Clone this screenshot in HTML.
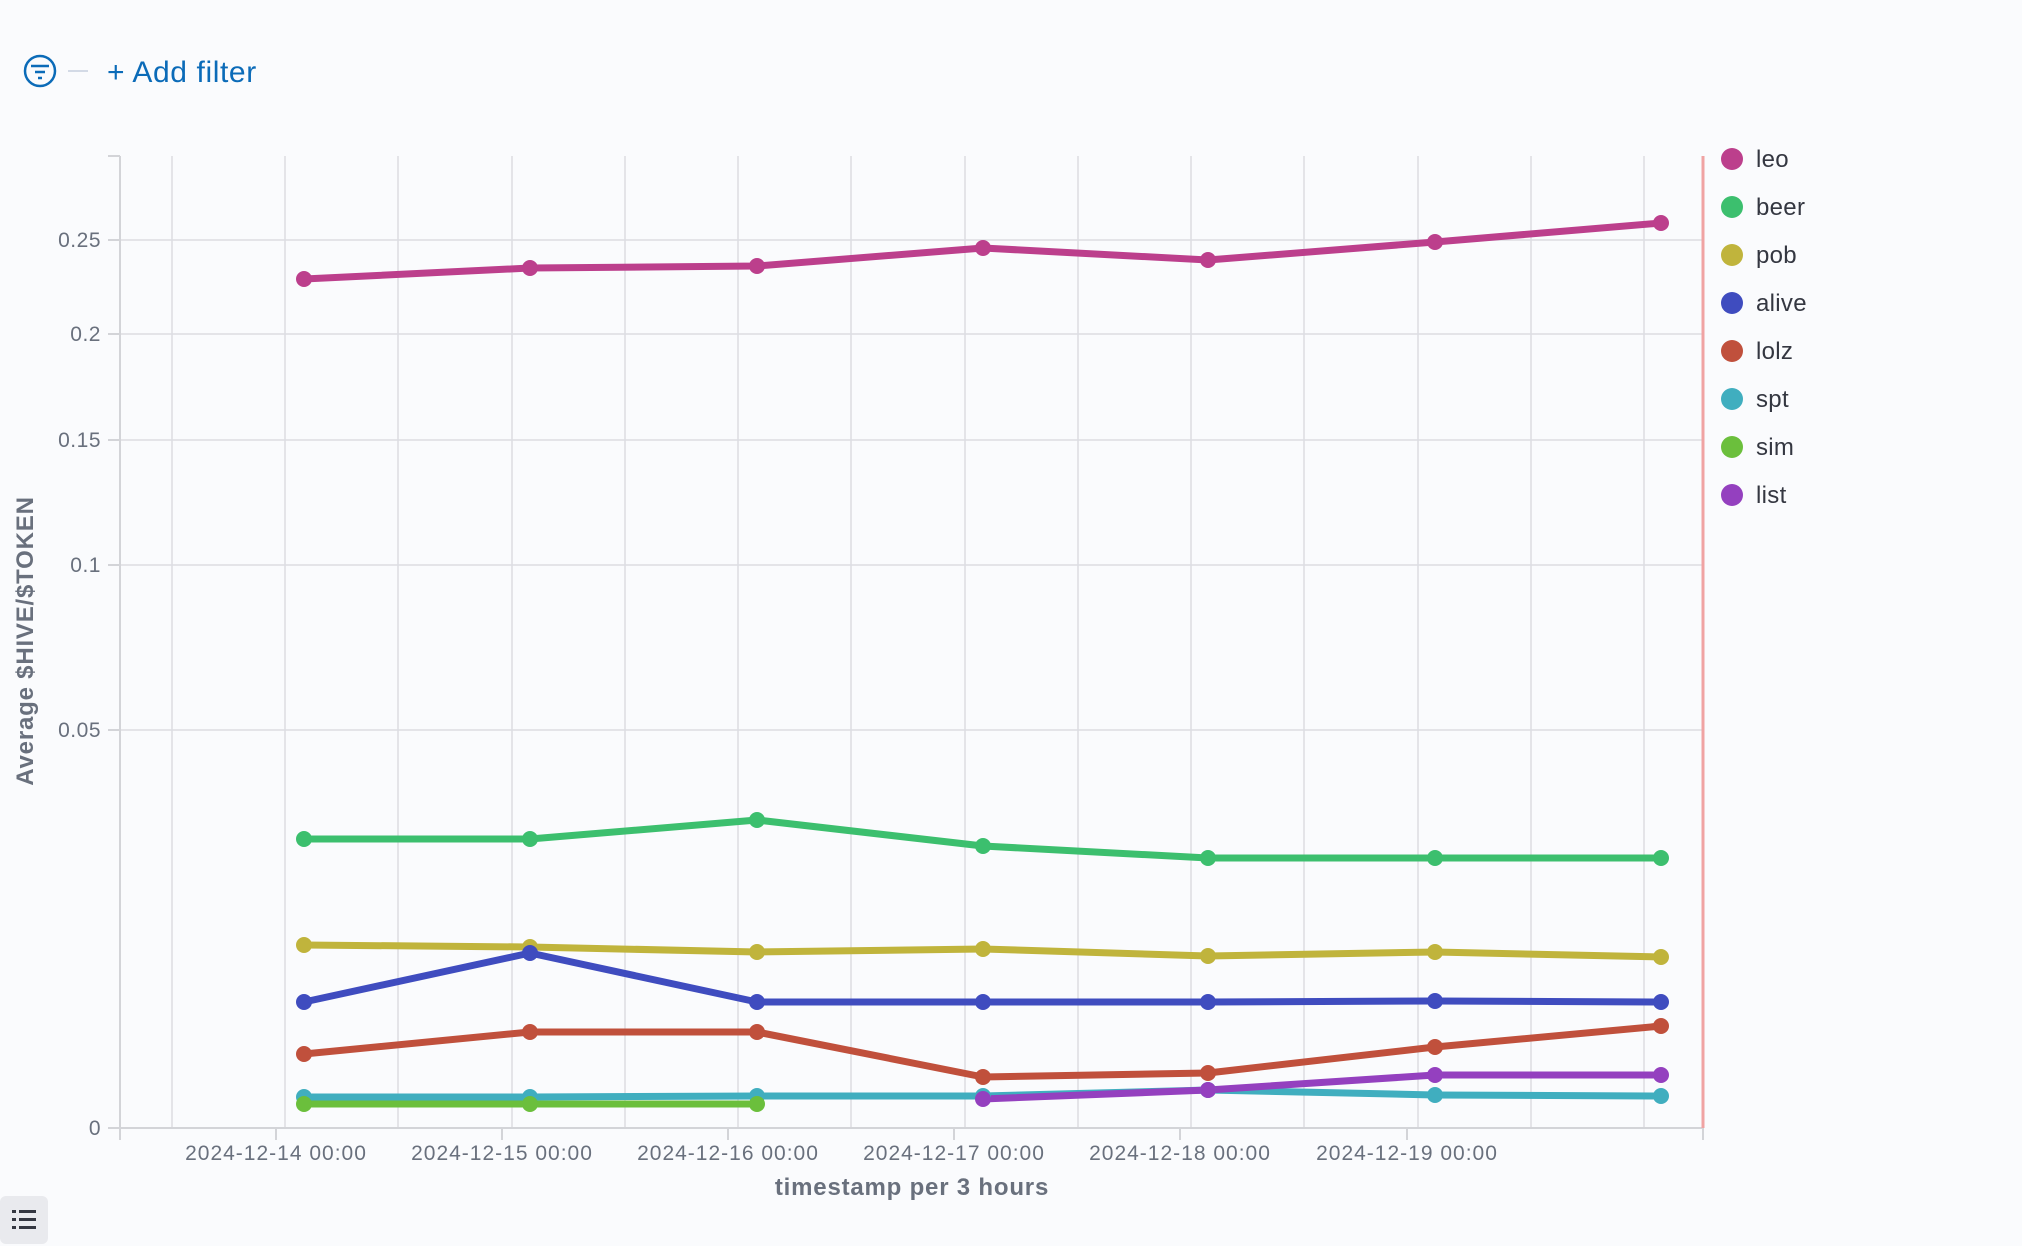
<!DOCTYPE html>
<html><head><meta charset="utf-8"><style>
html,body{margin:0;padding:0;background:#fafbfd;width:2022px;height:1246px;overflow:hidden;font-family:"Liberation Sans",sans-serif}
</style></head><body>
<svg width="2022" height="1246" xmlns="http://www.w3.org/2000/svg" font-family="Liberation Sans, sans-serif">
<rect width="2022" height="1246" fill="#fafbfd"/>
<circle cx="40" cy="71" r="15" fill="none" stroke="#0b6bb8" stroke-width="2.5"/>
<line x1="31" y1="66" x2="49" y2="66" stroke="#0b6bb8" stroke-width="2.5"/>
<line x1="35" y1="72" x2="45" y2="72" stroke="#0b6bb8" stroke-width="2.5"/>
<line x1="38" y1="78" x2="42" y2="78" stroke="#0b6bb8" stroke-width="2.5"/>
<line x1="68" y1="71" x2="88" y2="71" stroke="#d3dae6" stroke-width="2"/>
<text x="107" y="82" font-size="30" letter-spacing="0.6" fill="#0b6bb8">+ Add filter</text>
<g stroke="#dcdde2" stroke-width="1.5">
<line x1="172" y1="156" x2="172" y2="1128"/><line x1="285" y1="156" x2="285" y2="1128"/>
<line x1="398" y1="156" x2="398" y2="1128"/><line x1="512" y1="156" x2="512" y2="1128"/>
<line x1="625" y1="156" x2="625" y2="1128"/><line x1="738" y1="156" x2="738" y2="1128"/>
<line x1="851" y1="156" x2="851" y2="1128"/><line x1="965" y1="156" x2="965" y2="1128"/>
<line x1="1078" y1="156" x2="1078" y2="1128"/><line x1="1191" y1="156" x2="1191" y2="1128"/>
<line x1="1304" y1="156" x2="1304" y2="1128"/><line x1="1418" y1="156" x2="1418" y2="1128"/>
<line x1="1531" y1="156" x2="1531" y2="1128"/><line x1="1644" y1="156" x2="1644" y2="1128"/>
<line x1="120" y1="240" x2="1703" y2="240"/><line x1="120" y1="334" x2="1703" y2="334"/>
<line x1="120" y1="440" x2="1703" y2="440"/><line x1="120" y1="565" x2="1703" y2="565"/>
<line x1="120" y1="730" x2="1703" y2="730"/>
</g>
<g stroke="#d3d4d8" stroke-width="2">
<line x1="120" y1="156" x2="120" y2="1140"/><line x1="108" y1="1128" x2="1703" y2="1128"/>
<line x1="108" y1="156" x2="120" y2="156"/>
<line x1="108" y1="240" x2="120" y2="240"/><line x1="108" y1="334" x2="120" y2="334"/>
<line x1="108" y1="440" x2="120" y2="440"/><line x1="108" y1="565" x2="120" y2="565"/>
<line x1="108" y1="730" x2="120" y2="730"/>
<line x1="276" y1="1128" x2="276" y2="1140"/><line x1="502" y1="1128" x2="502" y2="1140"/>
<line x1="728" y1="1128" x2="728" y2="1140"/><line x1="954" y1="1128" x2="954" y2="1140"/>
<line x1="1180" y1="1128" x2="1180" y2="1140"/><line x1="1407" y1="1128" x2="1407" y2="1140"/>
<line x1="1703" y1="1128" x2="1703" y2="1140"/>
</g>
<g font-size="21" letter-spacing="0.5" fill="#69707d" text-anchor="end">
<text x="101" y="247">0.25</text><text x="101" y="341">0.2</text><text x="101" y="447">0.15</text>
<text x="101" y="572">0.1</text><text x="101" y="737">0.05</text><text x="101" y="1135">0</text>
</g>
<g font-size="21" letter-spacing="1" fill="#69707d" text-anchor="middle">
<text x="276" y="1160">2024-12-14 00:00</text><text x="502" y="1160">2024-12-15 00:00</text>
<text x="728" y="1160">2024-12-16 00:00</text><text x="954" y="1160">2024-12-17 00:00</text>
<text x="1180" y="1160">2024-12-18 00:00</text><text x="1407" y="1160">2024-12-19 00:00</text>
</g>
<text x="912" y="1195" font-size="24" letter-spacing="0.8" font-weight="bold" fill="#69707d" text-anchor="middle">timestamp per 3 hours</text>
<text transform="translate(33,641) rotate(-90)" font-size="24" letter-spacing="0.8" font-weight="bold" fill="#69707d" text-anchor="middle">Average $HIVE/$TOKEN</text>
<line x1="1703" y1="156" x2="1703" y2="1128" stroke="#f0a3a3" stroke-width="3"/>
<g fill="none" stroke-width="7" stroke-linejoin="round">
<polyline stroke="#bc3f8c" points="304,279 530,268 757,266 983,248 1208,260 1435,242 1661,223"/>
<polyline stroke="#3cbf6e" points="304,839 530,839 757,820 983,846 1208,858 1435,858 1661,858"/>
<polyline stroke="#c0b43c" points="304,945 530,947 757,952 983,949 1208,956 1435,952 1661,957"/>
<polyline stroke="#3f4cbf" points="304,1002 530,953 757,1002 983,1002 1208,1002 1435,1001 1661,1002"/>
<polyline stroke="#c0503c" points="304,1054 530,1032 757,1032 983,1077 1208,1073 1435,1047 1661,1026"/>
<polyline stroke="#40aebf" points="304,1097 530,1097 757,1096 983,1096 1208,1090 1435,1095 1661,1096"/>
<polyline stroke="#6bbf3c" points="304,1104 530,1104 757,1104"/>
<polyline stroke="#9440bf" points="983,1099 1208,1090 1435,1075 1661,1075"/>
</g>
<g>
<g fill="#bc3f8c"><circle cx="304" cy="279" r="8"/><circle cx="530" cy="268" r="8"/><circle cx="757" cy="266" r="8"/><circle cx="983" cy="248" r="8"/><circle cx="1208" cy="260" r="8"/><circle cx="1435" cy="242" r="8"/><circle cx="1661" cy="223" r="8"/></g>
<g fill="#3cbf6e"><circle cx="304" cy="839" r="8"/><circle cx="530" cy="839" r="8"/><circle cx="757" cy="820" r="8"/><circle cx="983" cy="846" r="8"/><circle cx="1208" cy="858" r="8"/><circle cx="1435" cy="858" r="8"/><circle cx="1661" cy="858" r="8"/></g>
<g fill="#c0b43c"><circle cx="304" cy="945" r="8"/><circle cx="530" cy="947" r="8"/><circle cx="757" cy="952" r="8"/><circle cx="983" cy="949" r="8"/><circle cx="1208" cy="956" r="8"/><circle cx="1435" cy="952" r="8"/><circle cx="1661" cy="957" r="8"/></g>
<g fill="#3f4cbf"><circle cx="304" cy="1002" r="8"/><circle cx="530" cy="953" r="8"/><circle cx="757" cy="1002" r="8"/><circle cx="983" cy="1002" r="8"/><circle cx="1208" cy="1002" r="8"/><circle cx="1435" cy="1001" r="8"/><circle cx="1661" cy="1002" r="8"/></g>
<g fill="#c0503c"><circle cx="304" cy="1054" r="8"/><circle cx="530" cy="1032" r="8"/><circle cx="757" cy="1032" r="8"/><circle cx="983" cy="1077" r="8"/><circle cx="1208" cy="1073" r="8"/><circle cx="1435" cy="1047" r="8"/><circle cx="1661" cy="1026" r="8"/></g>
<g fill="#40aebf"><circle cx="304" cy="1097" r="8"/><circle cx="530" cy="1097" r="8"/><circle cx="757" cy="1096" r="8"/><circle cx="983" cy="1096" r="8"/><circle cx="1208" cy="1090" r="8"/><circle cx="1435" cy="1095" r="8"/><circle cx="1661" cy="1096" r="8"/></g>
<g fill="#6bbf3c"><circle cx="304" cy="1104" r="8"/><circle cx="530" cy="1104" r="8"/><circle cx="757" cy="1104" r="8"/></g>
<g fill="#9440bf"><circle cx="983" cy="1099" r="8"/><circle cx="1208" cy="1090" r="8"/><circle cx="1435" cy="1075" r="8"/><circle cx="1661" cy="1075" r="8"/></g>
</g>
<g font-size="24" letter-spacing="0.3" fill="#343741">
<circle cx="1732" cy="159" r="11" fill="#bc3f8c"/><text x="1756" y="167">leo</text>
<circle cx="1732" cy="207" r="11" fill="#3cbf6e"/><text x="1756" y="215">beer</text>
<circle cx="1732" cy="255" r="11" fill="#c0b43c"/><text x="1756" y="263">pob</text>
<circle cx="1732" cy="303" r="11" fill="#3f4cbf"/><text x="1756" y="311">alive</text>
<circle cx="1732" cy="351" r="11" fill="#c0503c"/><text x="1756" y="359">lolz</text>
<circle cx="1732" cy="399" r="11" fill="#40aebf"/><text x="1756" y="407">spt</text>
<circle cx="1732" cy="447" r="11" fill="#6bbf3c"/><text x="1756" y="455">sim</text>
<circle cx="1732" cy="495" r="11" fill="#9440bf"/><text x="1756" y="503">list</text>
</g>
<rect x="0" y="1196" width="48" height="48" rx="6" fill="#e9eaee"/>
<g fill="#343741">
<rect x="12" y="1210" width="4" height="3"/><rect x="19" y="1210" width="17" height="3"/>
<rect x="12" y="1218" width="4" height="3"/><rect x="19" y="1218" width="17" height="3"/>
<rect x="12" y="1226" width="4" height="3"/><rect x="19" y="1226" width="17" height="3"/>
</g>
</svg>
</body></html>
